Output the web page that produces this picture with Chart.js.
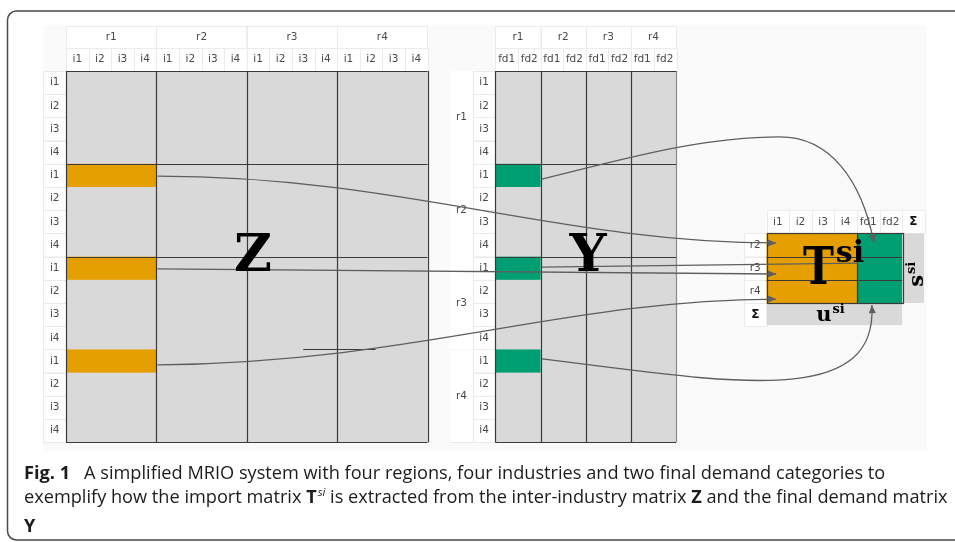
<!DOCTYPE html>
<html><head><meta charset="utf-8">
<script src="https://cdn.jsdelivr.net/npm/chart.js@4.4.0/dist/chart.umd.min.js"></script>
<style>html,body{margin:0;padding:0;background:#fff;overflow:hidden}#wrap{position:relative;width:955px;height:542px}</style>
</head><body><div id="wrap"><canvas id="c"></canvas></div>
<script>
// ---- data ----
const regions = ['r1','r2','r3','r4'];
const industries = ['i1','i2','i3','i4'];
const finalDemand = ['fd1','fd2'];
const importRegion = 'r1';
const extractedIndustry = 'i1';
const exportRegions = ['r2','r3','r4'];
const tColumnLabels = ['i1','i2','i3','i4','fd1','fd2','Σ'];
const tRowLabels = ['r2','r3','r4','Σ'];
const matrixNames = ['Z','Y'];
const captionFig = 'Fig. 1';
const captionLine1 = 'A simplified MRIO system with four regions, four industries and two final demand categories to';
const captionLine2a = 'exemplify how the import matrix ';
const captionLine2b = ' is extracted from the inter-industry matrix ';
const captionLine2c = ' and the final demand matrix';

// ---- styling / layout (grid units: 1 column, 1 row) ----
const COLORS = {gray:'#d9d9d9', orange:'#e69f00', green:'#009e73', dark:'#3a3a3a', arrow:'#5e5e5e',
  sep:'#ebebeb', panel:'#fafafa', label:'#4a4a4a', border:'#4a4a4a', text:'#1e1b1c'};
const GRID = {xMin:-2.92, xMax:39.34, yMin:-3.06, yMax:20.30, zCol:0, yCol:19, tCol:31, tRow:7, headTop:-1.95};
const arrows = [
  {path:[[4.05,4.53],[14.8,4.53,21.9,7.41,31.42,7.41]], head:true},
  {path:[[4.05,8.53],[31.42,8.75]], head:true},
  {path:[[4.05,12.67],[15.66,12.54,21.86,9.87,31.42,9.83]], head:true},
  {path:[[21.06,4.66],[24.51,3.84,28.05,2.84,31.59,2.84],[33.81,2.84,35.22,4.70,35.75,7.41]], head:true},
  {path:[[21.06,8.45],[35.04,8.28]], head:false},
  {path:[[21.06,12.41],[29.38,13.41,35.93,14.61,35.66,10.09]], head:true}
];

const mrioPlugin = {
  id:'mrio',
  afterDraw(chart){
    const ctx = chart.ctx, sx = chart.scales.x, sy = chart.scales.y;
    const X = v => sx.getPixelForValue(v), Y = v => sy.getPixelForValue(v);
    const nI = industries.length, nR = regions.length, nF = finalDemand.length;
    ctx.save();
    const fill = (c0,r0,c1,r1,col) => { ctx.fillStyle = col; ctx.fillRect(X(c0), Y(r0), X(c1)-X(c0), Y(r1)-Y(r0)); };
    const cell = (c0,r0,c1,r1) => {
      fill(c0,r0,c1,r1,'#ffffff');
      ctx.strokeStyle = COLORS.sep; ctx.lineWidth = 1;
      ctx.strokeRect(Math.round(X(c0))+0.5, Math.round(Y(r0))+0.5, Math.round(X(c1)-X(c0)), Math.round(Y(r1)-Y(r0)));
    };
    const hline = (c0,c1,r,col,lw) => { const y = Math.round(Y(r))+0.5; ctx.strokeStyle = col; ctx.lineWidth = lw;
      ctx.beginPath(); ctx.moveTo(X(c0), y); ctx.lineTo(X(c1), y); ctx.stroke(); };
    const vline = (c,r0,r1,col,lw) => { const x = Math.round(X(c))+0.5; ctx.strokeStyle = col; ctx.lineWidth = lw;
      ctx.beginPath(); ctx.moveTo(x, Y(r0)); ctx.lineTo(x, Y(r1)); ctx.stroke(); };
    const text = (t,c,r,font,col,align) => { ctx.font = font; ctx.fillStyle = col || COLORS.label;
      ctx.textAlign = align || 'center'; ctx.textBaseline = 'middle'; ctx.fillText(t, X(c), Y(r)); };
    const LF = '10.5px "DejaVu Sans"';
    const LFB = 'bold 12px "DejaVu Sans"';

    // frame
    const ca = chart.chartArea;
    ctx.strokeStyle = COLORS.border; ctx.lineWidth = 1.5;
    ctx.beginPath(); ctx.roundRect(ca.left+7.5, ca.top+11, ca.right-ca.left+20, 529, 9); ctx.stroke();
    // panel
    fill(-1, GRID.headTop, 38.1, 16.4, COLORS.panel);

    // ---------- Z ----------
    const zc = GRID.zCol;
    regions.forEach((reg,k) => {
      cell(zc+k*nI, GRID.headTop, zc+(k+1)*nI, -1); text(reg, zc+k*nI+nI/2, (GRID.headTop-1)/2, LF);
      industries.forEach((ind,j) => { const c = zc+k*nI+j; cell(c,-1,c+1,0); text(ind, c+0.5, -0.5, LF); });
    });
    regions.forEach((reg,k) => industries.forEach((ind,j) => { const r = k*nI+j; cell(zc-1,r,zc,r+1); text(ind, zc-0.5, r+0.5, LF); }));
    fill(zc, 0, zc+nR*nI, nR*nI, COLORS.gray);
    exportRegions.forEach(reg => {
      const r = regions.indexOf(reg)*nI + industries.indexOf(extractedIndustry);
      const c = zc + regions.indexOf(importRegion)*nI;
      fill(c, r, c+nI, r+1, COLORS.orange);
    });
    for (let k=0;k<=nR;k++) vline(zc+k*nI, 0, nR*nI, COLORS.dark, 1.2);
    [0,1,2].forEach(k => hline(zc, zc+nR*nI, k*nI, COLORS.dark, 1.2));
    hline(zc, zc+nR*nI, nR*nI, COLORS.dark, 1.2);
    hline(zc+10.5, zc+13.7, 3*nI, COLORS.dark, 1.2);

    // ---------- Y ----------
    const yc = GRID.yCol;
    regions.forEach((reg,k) => {
      cell(yc+k*nF, GRID.headTop, yc+(k+1)*nF, -1); text(reg, yc+k*nF+nF/2, (GRID.headTop-1)/2, LF);
      finalDemand.forEach((fd,j) => { const c = yc+k*nF+j; cell(c,-1,c+1,0); text(fd, c+0.5, -0.5, LF); });
    });
    regions.forEach((reg,k) => {
      fill(yc-2, k*nI, yc-1, (k+1)*nI, '#ffffff');
      hline(yc-2, yc-1, (k+1)*nI, COLORS.sep, 1);
      text(reg, yc-1.5, k*nI+nI/2, LF);
      industries.forEach((ind,j) => { const r = k*nI+j; cell(yc-1,r,yc,r+1); text(ind, yc-0.5, r+0.5, LF); });
    });
    fill(yc, 0, yc+nR*nF, nR*nI, COLORS.gray);
    exportRegions.forEach(reg => {
      const r = regions.indexOf(reg)*nI + industries.indexOf(extractedIndustry);
      const c = yc + regions.indexOf(importRegion)*nF;
      fill(c, r, c+nF, r+1, COLORS.green);
    });
    for (let k=0;k<nR;k++) vline(yc+k*nF, 0, nR*nI, COLORS.dark, 1.2);
    vline(yc+nR*nF, 0, nR*nI, '#8a8a8a', 1.2);
    [0,1,2].forEach(k => hline(yc, yc+nR*nF, k*nI, COLORS.dark, 1.2));
    hline(yc, yc+nR*nF, nR*nI, COLORS.dark, 1.2);

    // ---------- T ----------
    const tc = GRID.tCol, tr = GRID.tRow, nE = exportRegions.length;
    tColumnLabels.forEach((lab,j) => { cell(tc+j, tr-1, tc+j+1, tr); text(lab, tc+j+0.5, tr-0.5, lab==='Σ'?LFB:LF, lab==='Σ'?'#111':COLORS.label); });
    tRowLabels.forEach((lab,i) => { cell(tc-1, tr+i, tc, tr+i+1); text(lab, tc-0.5, tr+i+0.5, lab==='Σ'?LFB:LF, lab==='Σ'?'#111':COLORS.label); });
    fill(tc, tr, tc+nI, tr+nE, COLORS.orange);
    fill(tc+nI, tr, tc+nI+nF, tr+nE, COLORS.green);
    fill(tc+nI+nF, tr, tc+nI+nF+0.97, tr+nE, COLORS.gray);
    fill(tc, tr+nE, tc+nI+nF, tr+nE+0.95, COLORS.gray);
    for (let i=1;i<nE;i++) hline(tc, tc+nI+nF, tr+i, COLORS.dark, 1.2);
    vline(tc+nI, tr, tr+nE, COLORS.dark, 1.2);
    ctx.strokeStyle = COLORS.dark; ctx.lineWidth = 1.2;
    ctx.strokeRect(Math.round(X(tc))+0.5, Math.round(Y(tr))+0.5, Math.round(X(tc+nI+nF)-X(tc)), Math.round(Y(tr+nE)-Y(tr)));

    // ---------- arrows ----------
    ctx.strokeStyle = COLORS.arrow; ctx.fillStyle = COLORS.arrow; ctx.lineWidth = 1.3;
    arrows.forEach(a => {
      ctx.beginPath();
      const p0 = a.path[0]; ctx.moveTo(X(p0[0]), Y(p0[1]));
      let prev = [X(p0[0]), Y(p0[1])], end = prev;
      a.path.slice(1).forEach(s => {
        if (s.length === 6) { ctx.bezierCurveTo(X(s[0]),Y(s[1]),X(s[2]),Y(s[3]),X(s[4]),Y(s[5])); prev = [X(s[2]),Y(s[3])]; end = [X(s[4]),Y(s[5])]; }
        else { prev = end; ctx.lineTo(X(s[0]),Y(s[1])); end = [X(s[0]),Y(s[1])]; }
      });
      ctx.stroke();
      if (a.head) {
        const ang = Math.atan2(end[1]-prev[1], end[0]-prev[0]);
        const L = 8, W = 3.5;
        ctx.beginPath();
        ctx.moveTo(end[0], end[1]);
        ctx.lineTo(end[0]-L*Math.cos(ang)+W*Math.sin(ang), end[1]-L*Math.sin(ang)-W*Math.cos(ang));
        ctx.lineTo(end[0]-L*Math.cos(ang)-W*Math.sin(ang), end[1]-L*Math.sin(ang)+W*Math.cos(ang));
        ctx.closePath(); ctx.fill();
      }
    });

    // ---------- big symbols ----------
    const BIG = 'bold 52px "DejaVu Serif"';
    text(matrixNames[0], 8.27, 8.05, BIG, '#000');
    text(matrixNames[1], 23.1, 8.05, BIG, '#000');
    ctx.fillStyle = '#000'; ctx.textAlign = 'left'; ctx.textBaseline = 'alphabetic';
    ctx.save(); ctx.translate(X(32.61), Y(9.18)); ctx.scale(0.8,1);
    ctx.font = BIG; ctx.fillText('T', 0, 0);
    const tw = ctx.measureText('T').width; ctx.restore();
    ctx.font = 'bold 30px "DejaVu Serif"'; ctx.fillText('si', X(32.61)+tw*0.8+2, Y(8.23));
    ctx.font = 'bold 21px "DejaVu Serif"'; ctx.fillText('u', X(33.2), Y(10.78));
    const uw = ctx.measureText('u').width;
    ctx.font = 'bold 13px "DejaVu Serif"'; ctx.fillText('si', X(33.2)+uw+1, Y(10.78)-8);
    ctx.save(); ctx.translate(X(37.92), Y(9.3)); ctx.rotate(-Math.PI/2);
    ctx.font = 'bold 21px "DejaVu Serif"'; ctx.fillText('s', 0, 0);
    const sw = ctx.measureText('s').width;
    ctx.font = 'bold 13px "DejaVu Serif"'; ctx.fillText('si', sw+1, -8);
    ctx.restore();

    // ---------- caption ----------
    const x0 = ca.left + 24;
    const mk = (sz) => ({n: sz+'px "Open Sans"', b: 'bold '+sz+'px "Open Sans"', i:'italic '+(sz*0.62).toFixed(1)+'px "Open Sans"'});
    const line2 = (f) => [[captionLine2a,f.n],['T',f.b],['si',f.i,-7,1],[captionLine2b,f.n],['Z',f.b],[captionLine2c,f.n]];
    const width = (runs) => runs.reduce((w,r) => { ctx.font = r[1]; return w + ctx.measureText(r[0]).width + (r[3]||0); }, 0);
    let size = 19; size = size * 924 / width(line2(mk(size)));
    const f = mk(size.toFixed(2));
    const draw = (runs, x, y) => runs.forEach(r => { ctx.font = r[1]; ctx.fillText(r[0], x + (r[3]||0), y + (r[2]||0)); x += ctx.measureText(r[0]).width + (r[3]||0); });
    ctx.fillStyle = COLORS.text; ctx.textAlign = 'left'; ctx.textBaseline = 'alphabetic';
    ctx.font = f.b; ctx.fillText(captionFig, x0, ca.top+479);
    const fw = ctx.measureText(captionFig).width;
    ctx.font = f.n; ctx.fillText(captionLine1, x0 + fw + 14, ca.top+479);
    draw(line2(f), x0, ca.top+503);
    ctx.font = f.b; ctx.fillText(matrixNames[1], x0, ca.top+531.5);
    ctx.restore();
  }
};

new Chart(document.getElementById('c'), {
  type:'scatter',
  data:{datasets:[{data:[], pointRadius:0}]},
  options:{responsive:true, maintainAspectRatio:false, animation:false, events:[],
    layout:{padding:0},
    plugins:{legend:{display:false}, tooltip:{enabled:false}, title:{display:false}},
    scales:{
      x:{type:'linear', display:false, min:GRID.xMin, max:GRID.xMax},
      y:{type:'linear', display:false, reverse:true, min:GRID.yMin, max:GRID.yMax}
    }},
  plugins:[mrioPlugin]
});
</script></body></html>
